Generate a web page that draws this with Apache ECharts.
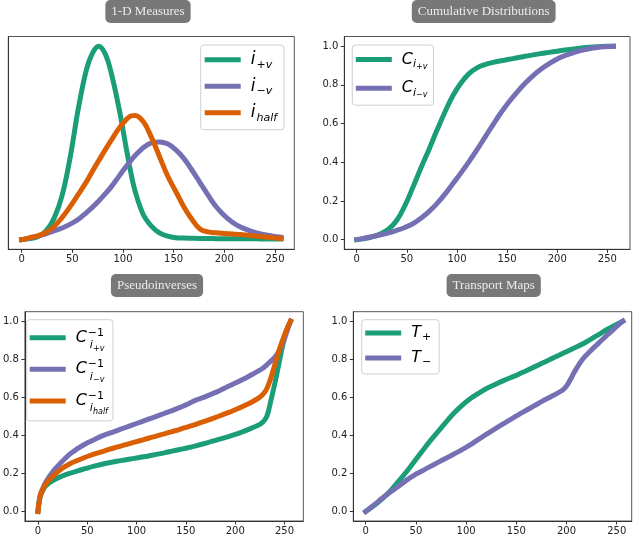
<!DOCTYPE html>
<html><head><meta charset="utf-8">
<script src="https://cdn.jsdelivr.net/npm/echarts@6/dist/echarts.min.js"></script>
<style>html,body{margin:0;padding:0;background:#fff}#c{width:640px;height:536px}</style>
</head><body><div id="c"></div>
<script>
// ---------- data ----------
const xMeasure = [0,8,16,24,32,40,48,56,64,70,76,82,88,96,104,108,112,120,128,136,144,152,160,168,176,184,192,200,208,216,224,232,240,248,256];
// Panel 1: 1-D measures (normalised densities)
const iPlusV = [0,0.005,0.015,0.045,0.11,0.23,0.43,0.68,0.88,0.965,1.0,0.965,0.87,0.68,0.45,0.34,0.25,0.13,0.07,0.035,0.018,0.01,0.008,0.007,0.006,0.006,0.005,0.005,0.005,0.004,0.004,0.004,0.003,0.003,0.003];
const iMinusV = [0,0.008,0.018,0.03,0.045,0.06,0.08,0.105,0.14,0.168,0.2,0.234,0.27,0.327,0.385,0.41,0.435,0.475,0.5,0.505,0.495,0.465,0.42,0.36,0.295,0.23,0.17,0.125,0.09,0.065,0.048,0.035,0.025,0.018,0.012];
const iHalf = [0,0.01,0.02,0.037,0.068,0.115,0.172,0.235,0.3,0.355,0.408,0.46,0.51,0.575,0.625,0.64,0.642,0.61,0.53,0.43,0.33,0.25,0.17,0.105,0.055,0.04,0.035,0.032,0.029,0.026,0.022,0.018,0.014,0.01,0.006];
// Panel 2: cumulative distributions
const xCdf = [0,8,16,24,32,40,48,56,64,72,80,88,96,104,112,120,128,136,144,152,160,168,176,184,192,200,208,216,224,232,240,248,256];
const cPlusV = [0,0.005,0.015,0.03,0.055,0.1,0.175,0.27,0.37,0.465,0.565,0.66,0.745,0.81,0.858,0.888,0.905,0.916,0.925,0.932,0.94,0.948,0.955,0.962,0.968,0.974,0.98,0.985,0.99,0.994,0.997,0.999,1.0];
const cMinusV = [0,0.008,0.016,0.025,0.035,0.048,0.063,0.082,0.11,0.145,0.186,0.235,0.29,0.345,0.403,0.465,0.53,0.595,0.657,0.713,0.763,0.808,0.848,0.882,0.91,0.934,0.952,0.966,0.978,0.987,0.993,0.997,1.0];
// Panel 3: pseudoinverses
const xPseudo = [0,2,4,8,16,24,32,40,48,56,64,72,80,88,96,104,112,120,128,136,144,152,160,168,176,184,192,200,208,216,224,228,232,236,240,244,248,252,256];
const invPlusV = [0,0.07,0.1,0.135,0.165,0.185,0.2,0.213,0.225,0.237,0.247,0.256,0.264,0.271,0.278,0.285,0.292,0.3,0.308,0.317,0.326,0.335,0.345,0.356,0.368,0.38,0.392,0.405,0.42,0.437,0.455,0.47,0.5,0.58,0.67,0.77,0.87,0.95,1.0];
const invMinusV = [0,0.08,0.11,0.155,0.215,0.26,0.3,0.33,0.355,0.375,0.395,0.41,0.425,0.44,0.455,0.47,0.485,0.5,0.515,0.53,0.547,0.565,0.585,0.6,0.617,0.635,0.655,0.675,0.695,0.717,0.74,0.753,0.77,0.79,0.81,0.84,0.88,0.94,1.0];
const invHalf = [0,0.075,0.105,0.145,0.19,0.225,0.25,0.268,0.285,0.3,0.313,0.326,0.338,0.35,0.362,0.373,0.385,0.396,0.408,0.42,0.432,0.445,0.458,0.472,0.487,0.502,0.518,0.535,0.553,0.573,0.597,0.615,0.645,0.7,0.77,0.84,0.9,0.955,1.0];
// Panel 4: transport maps
const xTransport = [0,8,16,24,32,40,48,56,64,72,80,88,96,104,112,120,128,136,144,152,160,168,176,184,192,196,200,204,208,216,224,232,240,248,256];
const tPlus = [0,0.03,0.065,0.105,0.155,0.205,0.26,0.315,0.37,0.42,0.47,0.518,0.558,0.592,0.62,0.645,0.665,0.685,0.703,0.72,0.74,0.76,0.78,0.8,0.82,0.83,0.84,0.85,0.86,0.88,0.905,0.93,0.955,0.978,1.0];
const tMinus = [0,0.033,0.068,0.1,0.13,0.162,0.19,0.213,0.236,0.258,0.28,0.302,0.325,0.35,0.378,0.405,0.432,0.458,0.483,0.508,0.532,0.556,0.58,0.602,0.625,0.638,0.66,0.695,0.735,0.8,0.845,0.885,0.925,0.963,1.0];

const xTicks = [0,50,100,150,200,250];
const yTicks = [0,0.2,0.4,0.6,0.8,1.0];
const titles = ['1-D Measures','Cumulative Distributions','Pseudoinverses','Transport Maps'];

const GREEN = '#1b9e77', PURPLE = '#7570b3', ORANGE = '#d95f02';

// ---------- helpers ----------
const zip = (xs, ys) => xs.map((x, i) => [x, ys[i]]);
function mkSeries(name, xs, ys, color, idx) {
  return {
    name, type: 'line', xAxisIndex: idx, yAxisIndex: idx,
    data: zip(xs, ys), showSymbol: false, smooth: 0.4,
    lineStyle: { width: 5, color, cap: 'square', join: 'round' },
    itemStyle: { color }, emphasis: { disabled: true }
  };
}
const grids = [
  { left: 8.3, top: 36.5, width: 286, height: 212.8 },
  { left: 344.3, top: 36.5, width: 285.7, height: 212.8 },
  { left: 17.3, top: 311.7, width: 286, height: 212.6 },
  { left: 353.3, top: 311.7, width: 278.4, height: 212.6 }
];
const xRanges = [[-13.2, 269.1], [-12.4, 272.6], [-13.2, 269], [-12.35, 264.9]];

const tickFont = { fontSize: 10, fontFamily: 'DejaVu Sans', color: '#222' };
const xAxes = grids.map((g, i) => ({
  type: 'value', gridIndex: i, min: xRanges[i][0], max: xRanges[i][1],
  axisLine: { show: true, onZero: false, lineStyle: { color: '#333', width: 1 } },
  axisTick: { show: true, length: 3.5, customValues: xTicks, lineStyle: { color: '#333' } },
  axisLabel: Object.assign({ customValues: xTicks, margin: 5 }, tickFont),
  splitLine: { show: false }
}));
const yAxes = grids.map((g, i) => ({
  type: 'value', gridIndex: i, min: -0.05, max: 1.05,
  axisLine: { show: true, onZero: false, lineStyle: { color: '#333', width: 1 } },
  axisTick: { show: i !== 0, length: 3.5, customValues: yTicks, lineStyle: { color: '#333' } },
  axisLabel: Object.assign({ show: i !== 0, customValues: yTicks, margin: 6, formatter: v => v.toFixed(1) }, tickFont),
  splitLine: { show: false }
}));

const MATH = 'DejaVu Sans';
const rich = {
  m: { fontSize: 17, fontStyle: 'italic', fontFamily: MATH, color: '#000', lineHeight: 20, padding: [0, 0, 0, 5] },
  s: { fontSize: 11, fontStyle: 'italic', fontFamily: MATH, color: '#000', lineHeight: 20, padding: [10, 0, 0, 1] },
  C: { fontSize: 16, fontStyle: 'italic', fontFamily: MATH, color: '#000', lineHeight: 20, padding: [0, 0, 0, 5] },
  ci: { fontSize: 11, fontStyle: 'italic', fontFamily: MATH, color: '#000', lineHeight: 20, padding: [9, 0, 0, 0] },
  cs: { fontSize: 8, fontStyle: 'italic', fontFamily: MATH, color: '#000', lineHeight: 20, padding: [14, 0, 0, 0] },
  P: { fontSize: 16, fontStyle: 'italic', fontFamily: MATH, color: '#000', lineHeight: 26, padding: [0, 0, 0, 5] },
  sup: { fontSize: 11, fontFamily: MATH, color: '#000', lineHeight: 26, width: 1, padding: [0, 0, 10, 1] },
  pi: { fontSize: 11, fontStyle: 'italic', fontFamily: MATH, color: '#000', lineHeight: 26, padding: [15, 0, 0, 1] },
  ps: { fontSize: 8, fontStyle: 'italic', fontFamily: MATH, color: '#000', lineHeight: 26, padding: [22, 0, 0, 0] },
  T: { fontSize: 16, fontStyle: 'italic', fontFamily: MATH, color: '#000', lineHeight: 20, padding: [0, 0, 0, 5] },
  ts: { fontSize: 11, fontFamily: MATH, color: '#000', lineHeight: 20, padding: [9, 0, 0, 1] }
};
const labels = {
  i_pv: '{m|i}{s|+v}', i_mv: '{m|i}{s|\u2212v}', i_half: '{m|i}{s|half}',
  C_pv: '{C|C}{ci|i}{cs|+v}', C_mv: '{C|C}{ci|i}{cs|\u2212v}',
  Ci_pv: '{P|C}{sup|\u22121}{pi|i}{ps|+v}', Ci_mv: '{P|C}{sup|\u22121}{pi|i}{ps|\u2212v}', Ci_half: '{P|C}{sup|\u22121}{pi|i}{ps|half}',
  T_p: '{T|T}{ts|+}', T_m: '{T|T}{ts|\u2212}'
};
function mkLegend(data, left, top, gap, padding) {
  return {
    data, orient: 'vertical', left, top, icon: 'rect', itemWidth: 36, itemHeight: 5,
    itemGap: gap, padding, backgroundColor: '#fff', borderColor: '#cfcfcf', borderWidth: 1, borderRadius: 3,
    selectedMode: false, formatter: n => labels[n], textStyle: { rich }
  };
}
const titleCenters = [[148, 0], [483.7, 0], [157, 274], [493.7, 274]];
const titleOpts = titles.map((t, i) => ({
  text: t, left: titleCenters[i][0] - 6, top: titleCenters[i][1], textAlign: 'center',
  backgroundColor: '#787878', borderRadius: 5, padding: [5, 6, 4, 6],
  textStyle: { fontFamily: 'Liberation Serif', fontSize: 13, fontWeight: 'normal', color: '#ececec', lineHeight: 14 }
}));

const option = {
  animation: false,
  title: titleOpts,
  grid: grids.map(g => Object.assign({ show: true, borderColor: '#555', borderWidth: 1, backgroundColor: 'transparent' }, g)),
  xAxis: xAxes, yAxis: yAxes,
  legend: [
    mkLegend(['i_pv', 'i_mv', 'i_half'], 200.7, 45, 5.5, [4.3, 7, 6.4, 4]),
    mkLegend(['C_pv', 'C_mv'], 352.3, 45, 6.7, [3.5, 6, 6, 3.5]),
    mkLegend(['Ci_pv', 'Ci_mv', 'Ci_half'], 26.7, 319.7, 1.6, [3, 5, 5, 3]),
    mkLegend(['T_p', 'T_m'], 361.7, 319.7, 5, [3.3, 8, 6, 3.5])
  ],
  series: [
    mkSeries('i_pv', xMeasure, iPlusV, GREEN, 0),
    mkSeries('i_mv', xMeasure, iMinusV, PURPLE, 0),
    mkSeries('i_half', xMeasure, iHalf, ORANGE, 0),
    mkSeries('C_pv', xCdf, cPlusV, GREEN, 1),
    mkSeries('C_mv', xCdf, cMinusV, PURPLE, 1),
    mkSeries('Ci_pv', xPseudo, invPlusV, GREEN, 2),
    mkSeries('Ci_mv', xPseudo, invMinusV, PURPLE, 2),
    mkSeries('Ci_half', xPseudo, invHalf, ORANGE, 2),
    mkSeries('T_p', xTransport, tPlus, GREEN, 3),
    mkSeries('T_m', xTransport, tMinus, PURPLE, 3)
  ]
};
const chart = echarts.init(document.getElementById('c'), null, { renderer: 'canvas' });
chart.setOption(option);
</script>
</body></html>
